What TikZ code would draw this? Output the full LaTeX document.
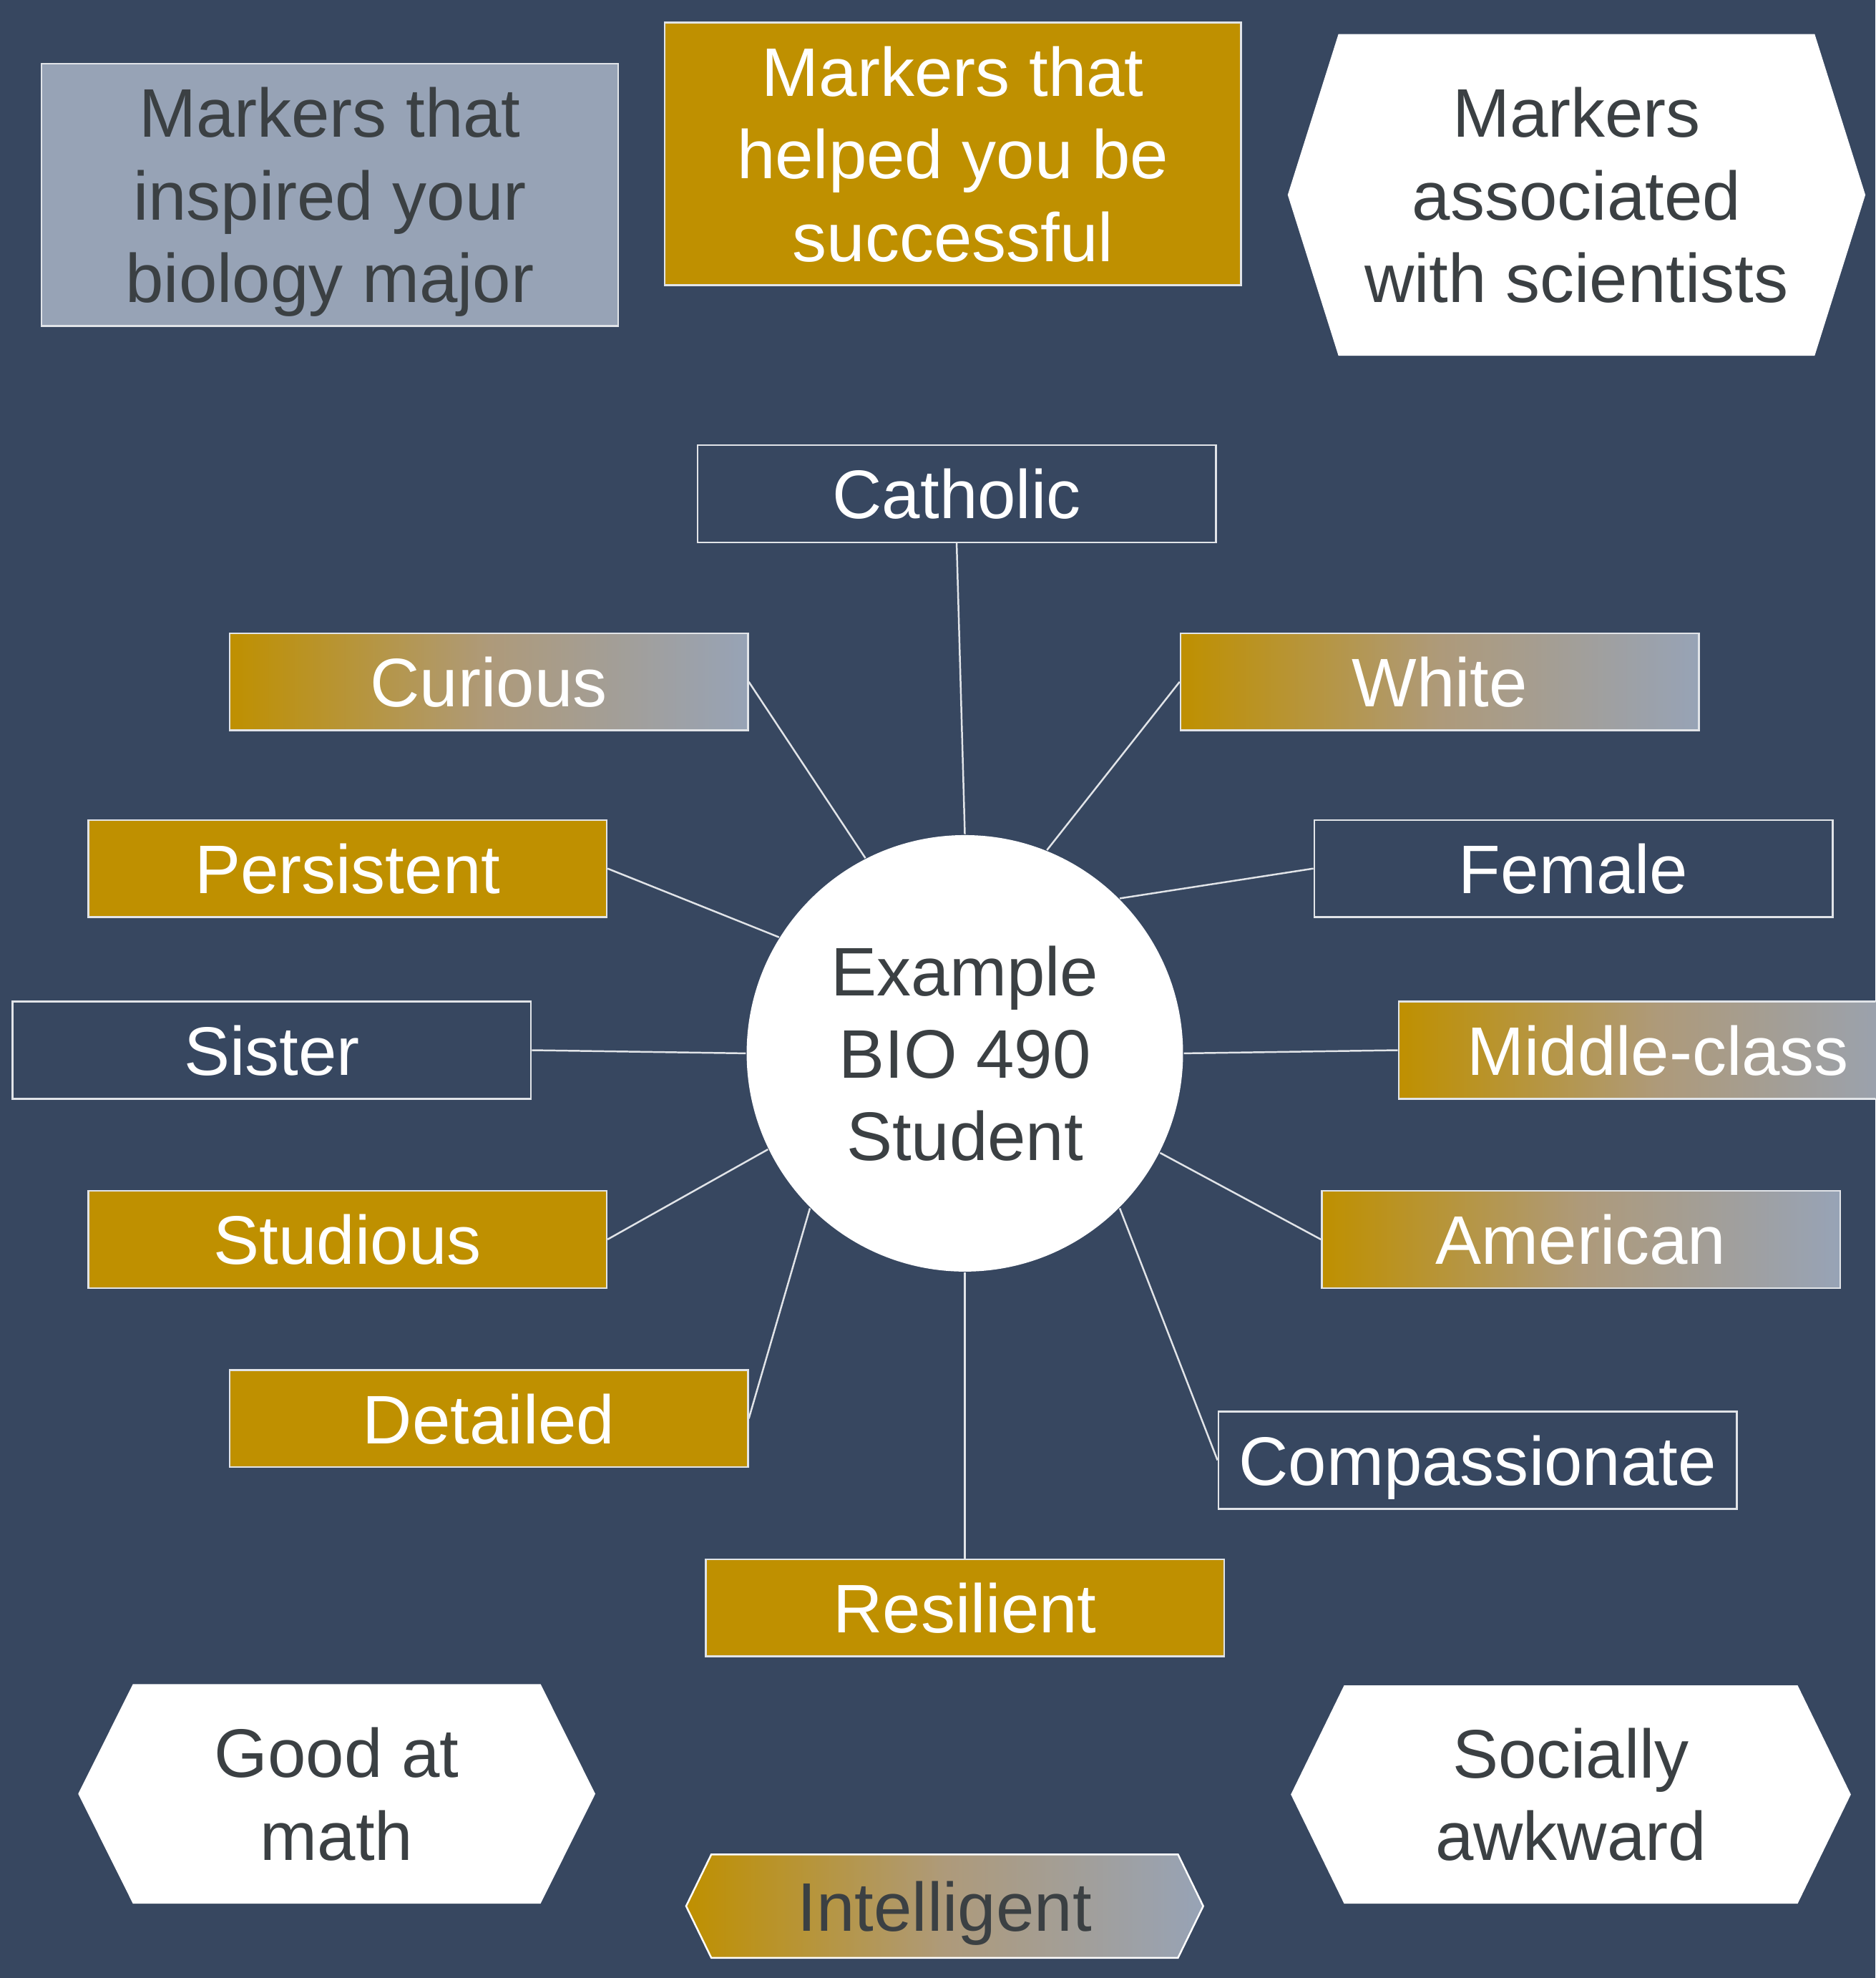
\documentclass[tikz,border=0pt]{standalone}
\usepackage{fontspec}
\setmainfont{Liberation Sans}
\usetikzlibrary{positioning,shapes.symbols}

\definecolor{slidebg}{RGB}{55,71,96}
\definecolor{gold}{RGB}{191,144,0}
\definecolor{slate}{RGB}{151,163,182}
\definecolor{fademid}{RGB}{174,154,122}
\definecolor{ink}{RGB}{59,64,67}
\definecolor{rule}{RGB}{225,228,232}

\tikzset{
  labeltext/.style={font=\fontsize{15.5}{18.6}\selectfont, align=center, inner sep=0pt, text depth=0pt},
  markerbox/.style={labeltext, draw=rule, line width=0.4pt, minimum width=4.11cm, minimum height=0.77cm, text=white},
  plainbox/.style={markerbox},
  goldbox/.style={markerbox, fill=gold},
  goldfade/.style={left color=gold, right color=slate, middle color=fademid},
  fadebox/.style={markerbox, goldfade},
  headbox/.style={labeltext, draw=rule, line width=0.4pt, minimum width=4.57cm, minimum height=2.08cm},
  hexbox/.style={labeltext, shape=signal, signal from=nowhere, signal to=west and east, fill=white, text=ink},
  spoke/.style={draw=rule, line width=0.4pt},
}

\begin{document}
\begin{tikzpicture}[on grid]
 \useasboundingbox (0,0) rectangle (14.87,-15.68);
 \clip (0,0) rectangle (14.87,-15.68);
 \fill[slidebg] (0,0) rectangle (14.87,-15.68);

 % key across the top
 \node[headbox, fill=slate, text=ink] (inspired) at (2.615,-1.545) {Markers that\\inspired your\\biology major};
 \node[headbox, fill=gold, text=white] (helped) at (7.555,-1.22) {Markers that\\helped you be\\successful};
 \node[hexbox, minimum width=4.58cm, minimum height=2.55cm, signal pointer angle=145] (scientists) at (12.5,-1.545) {Markers\\associated\\with scientists};

 % student and markers
 \node[circle, labeltext, fill=white, text=ink, minimum size=3.46cm] (student) at (7.65,-8.35) {Example\\BIO 490\\Student};
 \node[plainbox, above left=4.435cm and 0.065cm of student] (catholic) {Catholic};
 \node[fadebox, above left=2.945cm and 3.775cm of student] (curious) {Curious};
 \node[fadebox, above right=2.945cm and 3.765cm of student] (white) {White};
 \node[goldbox, above left=1.465cm and 4.895cm of student] (persistent) {Persistent};
 \node[plainbox, above right=1.465cm and 4.825cm of student] (female) {Female};
 \node[plainbox, above left=0.025cm and 5.495cm of student] (sister) {Sister};
 \node[fadebox, above right=0.025cm and 5.495cm of student] (middle) {Middle-class};
 \node[goldbox, below left=1.475cm and 4.895cm of student] (studious) {Studious};
 \node[fadebox, below right=1.475cm and 4.885cm of student] (american) {American};
 \node[goldbox, below left=2.895cm and 3.775cm of student] (detailed) {Detailed};
 \node[plainbox, below right=3.225cm and 4.065cm of student] (compassionate) {Compassionate};
 \node[goldbox, below=4.395cm of student] (resilient) {Resilient};

 \draw[spoke] (catholic.south) -- (student.90);
 \draw[spoke] (curious.east) -- (student.117);
 \draw[spoke] (white.west) -- (student.68);
 \draw[spoke] (persistent.east) -- (student.148);
 \draw[spoke] (female.west) -- (student.45);
 \draw[spoke] (sister.east) -- (student.180);
 \draw[spoke] (middle.west) -- (student.0);
 \draw[spoke] (studious.east) -- (student.206);
 \draw[spoke] (american.west) -- (student.333);
 \draw[spoke] (detailed.east) -- (student.225);
 \draw[spoke] (compassionate.west) -- (student.315);
 \draw[spoke] (resilient.north) -- (student.270);

 % stereotypes along the bottom
 \node[hexbox, minimum width=4.10cm, minimum height=1.74cm, signal pointer angle=127] (math) at (2.67,-14.22) {Good at\\math};
 \node[hexbox, minimum width=4.44cm, minimum height=1.73cm, signal pointer angle=128] (awkward) at (12.455,-14.225) {Socially\\awkward};
 \node[hexbox, draw=white, line width=0.4pt, goldfade, minimum width=4.10cm, minimum height=0.82cm, signal pointer angle=128] (intelligent) at (7.49,-15.11) {Intelligent};
\end{tikzpicture}
\end{document}
